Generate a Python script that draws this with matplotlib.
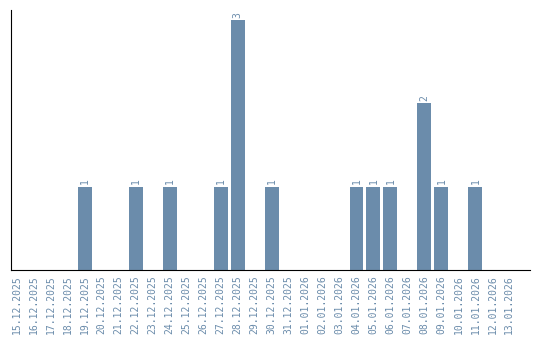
import matplotlib
matplotlib.use("Agg")
import matplotlib.pyplot as plt

days = ["15.12.2025", "16.12.2025", "17.12.2025", "18.12.2025", "19.12.2025",
        "20.12.2025", "21.12.2025", "22.12.2025", "23.12.2025", "24.12.2025",
        "25.12.2025", "26.12.2025", "27.12.2025", "28.12.2025", "29.12.2025",
        "30.12.2025", "31.12.2025", "01.01.2026", "02.01.2026", "03.01.2026",
        "04.01.2026", "05.01.2026", "06.01.2026", "07.01.2026", "08.01.2026",
        "09.01.2026", "10.01.2026", "11.01.2026", "12.01.2026", "13.01.2026"]
counts = [0, 0, 0, 0, 1, 0, 0, 1, 0, 1, 0, 0, 1, 3, 0,
          1, 0, 0, 0, 0, 1, 1, 1, 0, 2, 1, 0, 1, 0, 0]

col = "#6b8cab"
fig = plt.figure(figsize=(5.4, 3.4), dpi=100)
ax = fig.add_axes([0.02, 0.206, 0.961, 0.764])

x = list(range(len(days)))
ax.bar(x, counts, width=0.82, color=col)
for a, b in zip(x, counts):
    if b > 0:
        ax.text(a, b + 0.03, str(b), ha="center", va="bottom", rotation=90,
                fontsize=7, color=col, family="DejaVu Sans Mono")

ax.set_xlim(-0.35, 30.2)
ax.set_ylim(0, 3.12)
ax.set_xticks(x)
ax.set_xticklabels(days, rotation=90, fontsize=7, color=col, family="DejaVu Sans Mono")
ax.tick_params(axis="x", length=0, pad=4)
ax.set_yticks([])
ax.spines["top"].set_visible(False)
ax.spines["right"].set_visible(False)

plt.savefig("out.png")
